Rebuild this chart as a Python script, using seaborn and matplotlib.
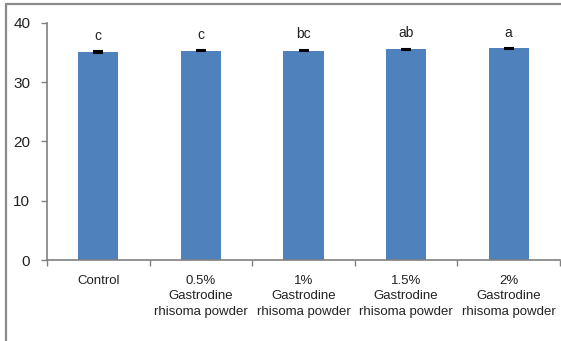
import matplotlib
matplotlib.use("Agg")
import matplotlib.pyplot as plt
import matplotlib.patches as mpatches
from matplotlib.ticker import FixedLocator
import seaborn as sns
import pandas as pd
import numpy as np

# Treatment groups and measured values
categories = [
    "Control",
    "0.5%\nGastrodine\nrhisoma powder",
    "1%\nGastrodine\nrhisoma powder",
    "1.5%\nGastrodine\nrhisoma powder",
    "2%\nGastrodine\nrhisoma powder",
]
means = [35.0, 35.3, 35.3, 35.5, 35.7]
errors = [0.15, 0.05, 0.15, 0.1, 0.05]
letters = ["c", "c", "bc", "ab", "a"]
y_ticks = [0, 10, 20, 30, 40]

sns.set_theme(style="white")
plt.rcParams["font.family"] = ["Liberation Sans", "DejaVu Sans"]

df = pd.DataFrame({"group": categories, "value": means})

fig = plt.figure(figsize=(5.61, 3.41), dpi=100)
ax = fig.add_axes([47 / 561, 1 - 260 / 341, 513 / 561, (260 - 22.7) / 341])

sns.barplot(data=df, x="group", y="value", color="#4F81BD", saturation=1,
            width=0.39, errorbar=None, ax=ax, edgecolor="none")

xpos = np.arange(len(categories))
ax.errorbar(xpos, means, yerr=errors, fmt="none", ecolor="black",
            elinewidth=1.2, capsize=3.5, capthick=1.5)

for x, m, e, lab in zip(xpos, means, errors, letters):
    ax.annotate(lab, (x, m + e), xytext=(0, 6), textcoords="offset points",
                ha="center", va="bottom", fontsize=10, color="#222222")

ax.set_xlim(-0.5, len(categories) - 0.5)
ax.set_ylim(0, 40)
ax.set_yticks(y_ticks)
ax.set_xlabel("")
ax.set_ylabel("")

for side in ("top", "right"):
    ax.spines[side].set_visible(False)
for side in ("left", "bottom"):
    ax.spines[side].set_color("#808080")
    ax.spines[side].set_linewidth(1.2)

ax.tick_params(axis="y", which="major", direction="out", length=4, width=1,
               color="#808080", labelsize=11, pad=8, labelcolor="#222222", left=True)
ax.tick_params(axis="x", which="major", length=0, labelsize=9.5, pad=11,
               labelcolor="#222222")
ax.xaxis.set_minor_locator(FixedLocator(np.arange(-0.5, len(categories), 1.0)))
ax.tick_params(axis="x", which="minor", direction="out", length=4, width=1,
               color="#808080", bottom=True)
for t in ax.get_xticklabels():
    t.set_linespacing(1.35)

# outer chart frame
frame = mpatches.Rectangle((6 / 561, -0.2), 1.2, 1.2 - 4 / 341,
                           transform=fig.transFigure, fill=False,
                           edgecolor="#8a8a8a", linewidth=1.6, clip_on=False)
fig.patches.append(frame)

fig.savefig("out.png", dpi=100)
